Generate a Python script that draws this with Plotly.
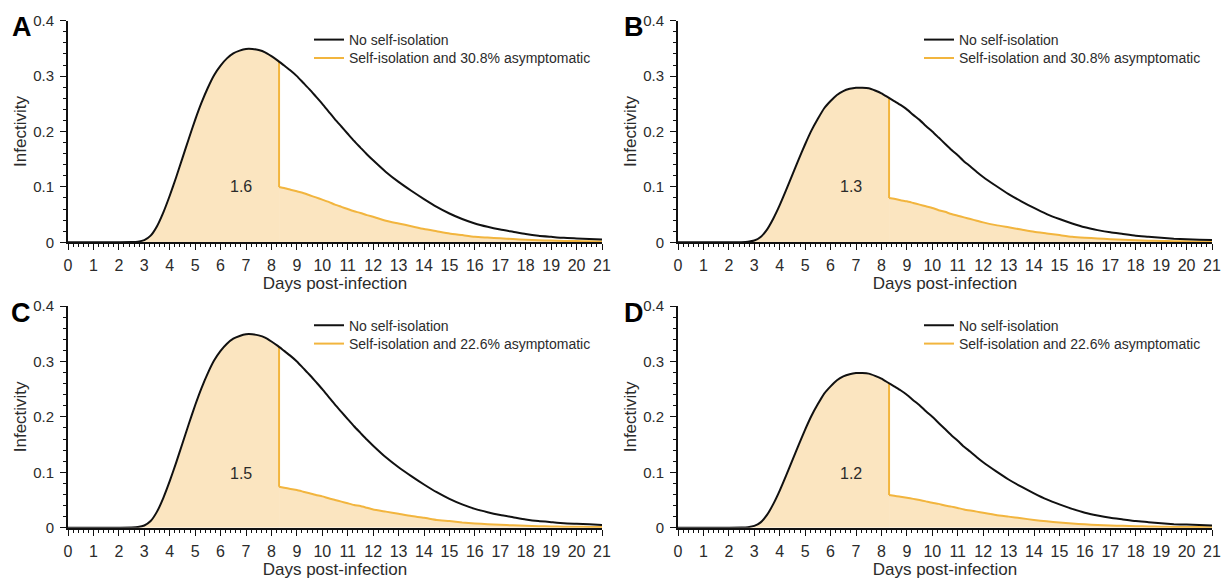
import plotly.graph_objects as go

# ---------------- data ----------------
days = [0, 0.5, 1, 1.5, 2,
        2.5, 2.75, 3, 3.25, 3.5, 3.75, 4, 4.25, 4.5, 4.75,
        5, 5.25, 5.5, 5.75, 6, 6.25, 6.5, 6.75, 7, 7.25,
        7.5, 7.75, 8, 8.25, 8.5, 8.75, 9, 9.25, 9.5, 9.75,
        10, 10.25, 10.5, 10.75, 11, 11.25, 11.5, 11.75, 12,
        12.5, 13, 13.5, 14, 14.5, 15, 15.5, 16, 16.5, 17, 17.5, 18, 18.5, 19, 19.5,
        20, 20.5, 21]

# No self-isolation (panels A and C)
black_high = [0, 0, 0, 0, 0.0001,
              0.0004, 0.0012, 0.004, 0.012, 0.029, 0.054, 0.084, 0.117, 0.152, 0.187,
              0.221, 0.252, 0.279, 0.302, 0.319, 0.332, 0.341, 0.346, 0.349, 0.349,
              0.347, 0.343, 0.336, 0.328, 0.319, 0.310, 0.300, 0.288, 0.276, 0.263,
              0.250, 0.236, 0.222, 0.209, 0.196, 0.183, 0.171, 0.159, 0.148,
              0.127, 0.109, 0.093, 0.078, 0.064, 0.052, 0.042, 0.034, 0.028, 0.023, 0.019,
              0.015, 0.012, 0.010, 0.008, 0.007, 0.006, 0.005]

# No self-isolation (panels B and D)
black_low = [0, 0, 0, 0, 0.0001,
             0.0003, 0.001, 0.0032, 0.0096, 0.023, 0.043, 0.067, 0.094, 0.122, 0.150,
             0.177, 0.202, 0.223, 0.242, 0.255, 0.266, 0.273, 0.277, 0.279, 0.279,
             0.278, 0.274, 0.269, 0.262, 0.255, 0.248, 0.240, 0.230, 0.221, 0.210,
             0.200, 0.189, 0.178, 0.167, 0.157, 0.146, 0.137, 0.127, 0.118,
             0.102, 0.087, 0.074, 0.062, 0.051, 0.042, 0.034, 0.027, 0.022, 0.018, 0.015,
             0.012, 0.010, 0.008, 0.0064, 0.0056, 0.0048, 0.004]

# Day of symptom onset / self-isolation, and the curve value right there
isolation_day = 8.3
black_at_isolation = [0.326, 0.261, 0.326, 0.261]

days_after = [8.3, 8.5, 8.75, 9, 9.25, 9.5, 9.75, 10, 10.25, 10.5, 10.75, 11, 11.25,
              11.5, 11.75, 12, 12.5, 13, 13.5, 14, 14.5, 15, 15.5, 16, 16.5, 17, 17.5,
              18, 18.5, 19, 19.5, 20, 20.5, 21]

orange_A = [0.100, 0.098, 0.095, 0.092, 0.089, 0.085, 0.081, 0.077, 0.073, 0.068, 0.064,
            0.060, 0.056, 0.053, 0.049, 0.046, 0.039, 0.034, 0.029, 0.024, 0.020, 0.016,
            0.013, 0.010, 0.0086, 0.0071, 0.0059, 0.0046, 0.0037, 0.0031, 0.0025, 0.0022,
            0.0018, 0.0015]
orange_B = [0.080, 0.0785, 0.076, 0.074, 0.071, 0.068, 0.065, 0.062, 0.058, 0.055, 0.051,
            0.048, 0.045, 0.042, 0.039, 0.036, 0.031, 0.027, 0.023, 0.019, 0.016, 0.013,
            0.010, 0.0083, 0.0069, 0.0057, 0.0046, 0.0037, 0.0030, 0.0025, 0.0020, 0.0017,
            0.0015, 0.0012]
orange_C = [0.0737, 0.072, 0.070, 0.068, 0.065, 0.062, 0.059, 0.0565, 0.053, 0.050, 0.047,
            0.044, 0.041, 0.039, 0.036, 0.033, 0.029, 0.025, 0.021, 0.018, 0.014, 0.012,
            0.0095, 0.0077, 0.0063, 0.0052, 0.0043, 0.0034, 0.0027, 0.0023, 0.0018, 0.0016,
            0.0014, 0.0011]
orange_D = [0.059, 0.0576, 0.056, 0.054, 0.052, 0.050, 0.0475, 0.045, 0.043, 0.040, 0.038,
            0.0355, 0.033, 0.031, 0.029, 0.027, 0.023, 0.020, 0.017, 0.014, 0.0115, 0.0095,
            0.0077, 0.0061, 0.0050, 0.0041, 0.0034, 0.0027, 0.0022, 0.0018, 0.0014, 0.0013,
            0.0011, 0.0009]

panel_letters = ["A", "B", "C", "D"]
r_labels = ["1.6", "1.3", "1.5", "1.2"]
r_label_pos = [(6.8, 0.1), (6.8, 0.1), (6.8, 0.098), (6.8, 0.098)]
asymptomatic = ["30.8%", "30.8%", "22.6%", "22.6%"]
black_series = [black_high, black_low, black_high, black_low]
orange_series = [orange_A, orange_B, orange_C, orange_D]
x_ticks = list(range(0, 22))
y_ticks = [0, 0.1, 0.2, 0.3, 0.4]
y_tick_text = ["0", "0.1", "0.2", "0.3", "0.4"]

# ---------------- style / layout ----------------
FONT = "Liberation Sans, Arial, sans-serif"
BLACK = "#111111"
ORANGE = "#F2B53E"
FILL = "rgb(251,229,192)"
TEXT = "#2b2b2b"

W, H = 1222, 580


def fx(px):
    return px / W


def fy(py):
    return 1 - py / H


x_px = [(68, 602), (678, 1212), (68, 602), (678, 1212)]
y_px = [(242.3, 20.7), (242.3, 20.7), (527.7, 306.0), (527.7, 306.0)]
legend_x_px = [309, 919, 309, 919]
legend_rows_px = [(40, 58.3), (40, 58.3), (325.7, 344), (325.7, 344)]
letter_px = [(22, 27), (633.5, 27), (21, 312.5), (633.5, 312.5)]

fig = go.Figure()
layout = dict(
    width=W, height=H,
    margin=dict(l=0, r=0, t=0, b=0, autoexpand=False),
    paper_bgcolor="white", plot_bgcolor="white",
    font=dict(family=FONT, size=14, color=TEXT),
    annotations=[],
)

n_pre = sum(1 for d in days if d < isolation_day)

for i in range(4):
    n = i + 1
    xa = "x" if n == 1 else f"x{n}"
    ya = "y" if n == 1 else f"y{n}"
    leg_black = "legend" if n == 1 else f"legend{2 * i + 1}"
    leg_orange = f"legend{2 * i + 2}"
    blk = black_series[i]
    org = orange_series[i]

    # shaded area before self-isolation
    fig.add_trace(go.Scatter(
        x=days[:n_pre] + [isolation_day], y=blk[:n_pre] + [black_at_isolation[i]],
        mode="lines", line=dict(width=0, shape="spline", smoothing=0.5),
        fill="tozeroy", fillcolor=FILL, hoverinfo="skip",
        showlegend=False, xaxis=xa, yaxis=ya))
    # reduced infectivity after self-isolation
    fig.add_trace(go.Scatter(
        x=days_after, y=org, mode="lines",
        line=dict(color=ORANGE, width=2, shape="spline", smoothing=0.5),
        fill="tozeroy", fillcolor=FILL, showlegend=False,
        xaxis=xa, yaxis=ya))
    # vertical drop at self-isolation (carries the legend entry)
    fig.add_trace(go.Scatter(
        x=[isolation_day, isolation_day], y=[black_at_isolation[i], org[0]], mode="lines",
        line=dict(color=ORANGE, width=2),
        name=f"Self-isolation and {asymptomatic[i]} asymptomatic",
        legend=leg_orange, hoverinfo="skip", xaxis=xa, yaxis=ya))
    # no self-isolation
    fig.add_trace(go.Scatter(
        x=days, y=blk, mode="lines",
        line=dict(color=BLACK, width=2, shape="spline", smoothing=0.5),
        name="No self-isolation", legend=leg_black, xaxis=xa, yaxis=ya))

    xkey = "xaxis" if n == 1 else f"xaxis{n}"
    ykey = "yaxis" if n == 1 else f"yaxis{n}"
    layout[xkey] = dict(
        domain=[fx(x_px[i][0]), fx(x_px[i][1])], anchor=ya, range=[0, 21],
        tickvals=x_ticks, ticks="outside", ticklen=6, tickwidth=1.4, tickcolor=BLACK,
        minor=dict(dtick=0.2, ticks="outside", ticklen=3, tickwidth=1, tickcolor=BLACK),
        showline=True, linecolor=BLACK, linewidth=1.8, showgrid=False, zeroline=False,
        tickfont=dict(size=16, color=TEXT), ticklabelstandoff=2,
        ticklabeloverflow="allow",
        title=dict(text="Days post-infection", font=dict(size=17, color=TEXT), standoff=2),
        automargin=False, fixedrange=True)
    layout[ykey] = dict(
        domain=[fy(y_px[i][0]), fy(y_px[i][1])], anchor=xa, range=[0, 0.4],
        tickvals=y_ticks, ticktext=y_tick_text, ticks="outside", ticklen=6, tickwidth=1.4,
        tickcolor=BLACK,
        minor=dict(dtick=0.02, ticks="outside", ticklen=3, tickwidth=1, tickcolor=BLACK),
        showline=True, linecolor=BLACK, linewidth=1.8, showgrid=False, zeroline=False,
        tickfont=dict(size=15, color=TEXT), ticklabelstandoff=3,
        title=dict(text="Infectivity", font=dict(size=17, color=TEXT), standoff=2),
        automargin=False, fixedrange=True)
    for leg, row_y in ((leg_black, legend_rows_px[i][0]), (leg_orange, legend_rows_px[i][1])):
        layout[leg] = dict(
            x=fx(legend_x_px[i]), y=fy(row_y), xanchor="left", yanchor="middle",
            bgcolor="rgba(0,0,0,0)", borderwidth=0, font=dict(size=14, color=TEXT),
            itemwidth=30)
    layout["annotations"].append(dict(
        x=r_label_pos[i][0], y=r_label_pos[i][1], xref=xa, yref=ya, text=r_labels[i],
        showarrow=False, font=dict(size=16, color=TEXT)))
    layout["annotations"].append(dict(
        x=fx(letter_px[i][0]), y=fy(letter_px[i][1]), xref="paper", yref="paper",
        xanchor="center", yanchor="middle",
        text=f"<b>{panel_letters[i]}</b>", showarrow=False,
        font=dict(size=27, color="black", family=FONT)))

fig.update_layout(**layout)
# remove the default 8px page margin so the 1222x580 figure fills the window exactly
fig.write_html("out.html",
               config={"displayModeBar": False},
               post_script="document.body.style.margin='0';document.body.style.overflow='hidden';")
